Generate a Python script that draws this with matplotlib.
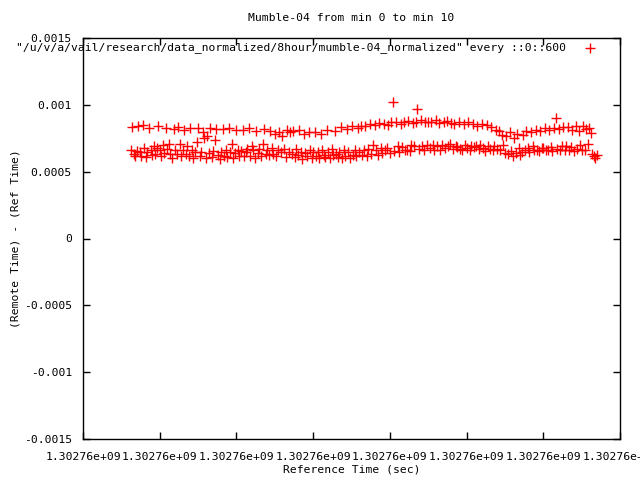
import numpy as np
import matplotlib
matplotlib.use("Agg")
import matplotlib.pyplot as plt
from matplotlib.ticker import FormatStrFormatter

# reference time of the first x tick (seconds since epoch)
T0 = 1302760000
# one row every 2 s, first row at T0 + 62
first_offset = 62
sample_step = 2

# remote - ref time, in microseconds
offset_us = [
    665, 835, 630, 615, 655, 840, 645, 620, 850, 675, 610, 650, 825, 660, 625,
    695, 630, 680, 840, 660, 615, 700, 640, 830, 670, 710, 635, 605, 820, 665,
    630, 835, 705, 615, 660, 815, 635, 695, 620, 825, 665, 600, 650, 725, 830,
    615, 650, 800, 755, 605, 765, 640, 825, 610, 655, 740, 820, 625, 595, 645,
    820, 620, 660, 610, 830, 650, 705, 600, 640, 815, 665, 620, 655, 810, 615,
    645, 670, 825, 620, 695, 660, 605, 805, 640, 670, 615, 705, 820, 630, 665,
    625, 805, 675, 635, 785, 615, 660, 800, 645, 765, 670, 610, 810, 650, 795,
    630, 805, 610, 670, 625, 815, 650, 595, 780, 640, 615, 800, 660, 605, 645,
    795, 615, 650, 600, 785, 660, 625, 610, 810, 650, 605, 670, 625, 805, 630,
    610, 650, 835, 605, 660, 620, 820, 645, 600, 840, 625, 665, 615, 825, 650,
    845, 625, 660, 840, 615, 670, 855, 635, 700, 850, 660, 625, 865, 675, 640,
    860, 665, 680, 850, 640, 875, 1020, 655, 870, 690, 645, 855, 685, 875, 660,
    665, 880, 655, 700, 865, 690, 870, 970, 670, 885, 695, 660, 875, 700, 870,
    675, 875, 700, 665, 885, 695, 865, 660, 700, 870, 675, 880, 690, 705, 865,
    670, 855, 695, 685, 875, 670, 665, 860, 700, 680, 870, 665, 690, 855, 685,
    690, 845, 670, 700, 860, 675, 655, 850, 695, 670, 835, 665, 690, 815, 670,
    805, 660, 775, 700, 640, 765, 630, 795, 655, 620, 755, 640, 785, 675, 625,
    645, 775, 665, 805, 675, 650, 795, 690, 660, 815, 665, 655, 805, 680, 675,
    825, 665, 660, 815, 685, 655, 830, 900, 670, 820, 665, 690, 835, 660, 695,
    835, 665, 685, 815, 655, 845, 670, 805, 700, 660, 840, 665, 820, 705, 825,
    790, 635, 615, 600, 625,
]

title = "Mumble-04 from min 0 to min 10"
key_label = '"/u/v/a/vail/research/data_normalized/8hour/mumble-04_normalized" every ::0::600'

plt.rcParams['font.family'] = ['DejaVu Sans Mono']
fs = 8.2

fig = plt.figure(figsize=(6.4, 4.8), dpi=100)
ax = fig.add_axes([83/640, 41/480, 537/640, 401/480])

times = T0 + first_offset + sample_step * np.arange(len(offset_us))
vals = np.array(offset_us) * 1e-6
ax.plot(times, vals, '+', color='#ff0000', markersize=6.5, mew=1.0, linestyle='none')

ax.set_xlim(T0, T0 + 700)
ax.set_ylim(-0.0015, 0.0015)
ax.set_xticks(np.arange(T0, T0 + 701, 100))
ax.set_yticks([-0.0015, -0.001, -0.0005, 0, 0.0005, 0.001, 0.0015])
ax.xaxis.set_major_formatter(FormatStrFormatter('%g'))
ax.yaxis.set_major_formatter(FormatStrFormatter('%g'))
ax.tick_params(direction='in', length=5, width=1, top=True, right=True,
               labelsize=fs, pad=8)
ax.tick_params(axis='x', pad=9)
for s in ax.spines.values():
    s.set_linewidth(1)

ax.set_xlabel("Reference Time (sec)", fontsize=fs, labelpad=2)
ax.set_ylabel("(Remote Time) - (Ref Time)", fontsize=fs, labelpad=2)

fig.text(351/640, 1 - 18/480, title, ha='center', va='center', fontsize=fs)

# key, gnuplot style: text right aligned, sample mark on the right
fig.text(566/640, 1 - 48/480, key_label, ha='right', va='center', fontsize=fs)
ax.plot([(590 - 83)/537], [(439 - 48)/401], '+', color='#ff0000', markersize=6.5,
        mew=1.0, transform=ax.transAxes, clip_on=False)

fig.savefig("out.png", dpi=100)
